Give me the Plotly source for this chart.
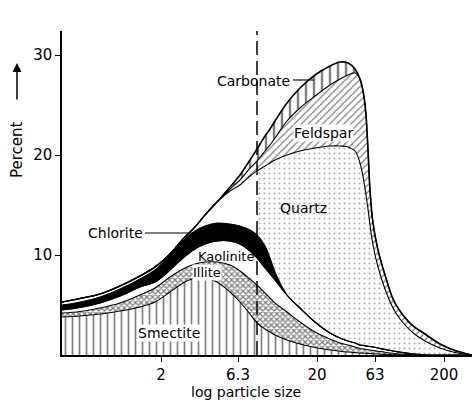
import plotly.graph_objects as go

# ---------------- data ----------------
# x positions on the drawn log particle-size axis (axis units)
X = [62, 80, 100, 120, 140, 155, 170, 183, 195, 205, 217, 230, 240, 250, 257, 265, 270, 275,
     287, 300, 315, 330, 340, 348, 355, 360, 364, 366, 368, 370, 373, 378, 385, 393, 400,
     412, 425, 440, 455, 472]

# cumulative tops of each component (percent)
SMECTITE = [3.8, 3.9, 4.1, 4.4, 4.8, 5.3, 6.3, 7.2, 7.7, 7.7, 7.3, 6.3, 5.3, 4.1, 3.2, 2.6, 2.3, 2.0,
            1.5, 1.1, 0.75, 0.5, 0.38, 0.3, 0.24, 0.2, 0.18, 0.17, 0.16, 0.15, 0.13, 0.1, 0.06, 0.03, 0.01,
            0, 0, 0, 0, 0]
ILLITE = [4.2, 4.35, 4.7, 5.2, 6.0, 6.7, 7.8, 8.6, 9.1, 9.3, 9.3, 9.0, 8.4, 7.6, 7.0, 6.2, 5.7, 5.2,
          4.3, 3.3, 2.3, 1.6, 1.2, 1.0, 0.8, 0.65, 0.6, 0.55, 0.52, 0.5, 0.45, 0.38, 0.28, 0.18, 0.1,
          0.03, 0, 0, 0, 0]
KAOLINITE = [4.5, 4.75, 5.2, 5.9, 6.8, 7.3, 8.5, 9.7, 10.6, 11.1, 11.4, 11.4, 11.1, 10.4, 9.7, 8.7, 8.1, 7.5,
             6.0, 4.7, 3.3, 2.2, 1.7, 1.4, 1.2, 1.0, 0.95, 0.9, 0.88, 0.85, 0.8, 0.7, 0.55, 0.4, 0.3,
             0.12, 0.03, 0, 0, 0]
CHLORITE = [5.0, 5.3, 5.8, 6.6, 7.6, 8.5, 10.0, 11.4, 12.4, 12.9, 13.2, 13.1, 12.9, 12.5, 12.0, 10.9, 9.7, 8.3,
            6.0, 4.7, 3.3, 2.2, 1.7, 1.4, 1.2, 1.0, 0.95, 0.9, 0.88, 0.85, 0.8, 0.7, 0.55, 0.4, 0.3,
            0.12, 0.03, 0, 0, 0]
QUARTZ = [5.3, 5.65, 6.1, 6.9, 7.9, 8.8, 10.1, 11.6, 12.8, 14.0, 15.3, 16.4, 17.0, 17.9, 18.4, 18.9, 19.2, 19.5,
          20.0, 20.4, 20.7, 20.9, 20.9, 20.8, 20.4, 19.2, 17.3, 16.0, 14.6, 13.0, 11.0, 8.8, 6.6, 4.7, 3.6,
          2.3, 1.4, 0.7, 0.25, 0]
FELDSPAR = [5.3, 5.65, 6.1, 6.9, 7.9, 8.8, 10.1, 11.6, 12.8, 14.0, 15.3, 16.6, 17.5, 18.7, 19.4, 20.4, 21.0, 21.7,
            23.4, 24.7, 25.9, 27.0, 27.6, 28.0, 28.2, 27.6, 25.8, 24.0, 20.5, 16.5, 13.2, 10.5, 8.0, 5.6, 4.4,
            3.0, 2.1, 1.1, 0.45, 0]
CARBONATE = [5.3, 5.65, 6.1, 6.9, 7.9, 8.8, 10.1, 11.6, 12.8, 14.0, 15.3, 16.8, 18.0, 19.5, 20.6, 21.9, 22.6, 23.4,
             25.2, 26.7, 28.0, 28.9, 29.3, 29.2, 28.6, 27.6, 25.8, 24.0, 20.5, 16.5, 13.2, 10.5, 8.0, 5.6, 4.4,
             3.0, 2.1, 1.1, 0.45, 0]

TICK_POS = [161, 238, 317, 375, 444]
TICK_TEXT = ["2", "6.3", "20", "63", "200"]
TEN_UM = 257

FONT = "DejaVu Sans"
K = "black"

# ---------------- figure ----------------
fig = go.Figure()
line = dict(color=K, width=1.1, shape="spline")
nol = dict(color="rgba(0,0,0,0)", width=0, shape="spline")


def add(y, x=X, fill="tonexty", fillcolor="white", pattern=None, ln=None):
    kw = {}
    if pattern:
        kw["fillpattern"] = pattern
    fig.add_trace(go.Scatter(x=x, y=y, mode="lines", line=ln or line, fill=fill,
                             fillcolor=fillcolor, hoverinfo="skip", showlegend=False, **kw))


add(SMECTITE, fill="tozeroy",
    pattern=dict(shape="|", size=7, solidity=0.24, fgcolor=K, bgcolor="white", fillmode="overlay"))
add(ILLITE, pattern=dict(shape="x", size=4, solidity=0.55, fgcolor=K, bgcolor="white", fillmode="overlay"))
add(KAOLINITE, fillcolor="white")

i10 = X.index(TEN_UM)
# quartz left of 10 µm: plain
add(CHLORITE[:i10 + 1], x=X[:i10 + 1], fill=None, ln=nol)
add(QUARTZ[:i10 + 1], x=X[:i10 + 1], fillcolor="white", ln=nol)
# quartz right of 10 µm: stippled
add(KAOLINITE[i10:], x=X[i10:], fill=None, ln=nol)
add(QUARTZ[i10:], x=X[i10:], ln=nol,
    pattern=dict(shape=".", size=5, solidity=0.13, fgcolor="#555", bgcolor="white", fillmode="overlay"))
# chlorite (black) painted over the quartz fills
add(KAOLINITE, fill=None)
add(CHLORITE, fillcolor=K)
# quartz top line
add(QUARTZ, fill=None)
add(FELDSPAR, pattern=dict(shape="/", size=5, solidity=0.25, fgcolor=K, bgcolor="white", fillmode="overlay"))
add(CARBONATE, pattern=dict(shape="|", size=8, solidity=0.3, fgcolor=K, bgcolor="white", fillmode="overlay"),
    ln=dict(color=K, width=1.6, shape="spline"))

# 10 µm line
fig.add_shape(type="line", x0=TEN_UM, x1=TEN_UM, y0=0, y1=32.5, xref="x", yref="y",
              line=dict(color=K, width=1.5, dash="14px,6px"))
# leader lines
fig.add_shape(type="line", x0=145, x1=197, y0=12.2, y1=12.2, line=dict(color=K, width=1.1))
fig.add_shape(type="line", x0=293, x1=314, y0=27.5, y1=27.5, line=dict(color=K, width=1.1))


def label(text, x, y, size=14, bg=None):
    fig.add_annotation(x=x, y=y, text=text, showarrow=False, xref="x", yref="y",
                       font=dict(family=FONT, size=size, color=K),
                       bgcolor=bg if bg else "rgba(0,0,0,0)", borderpad=0)


label("10 µm", 264, 34.0, 14)
label("Carbonate", 253, 27.4, 14)
label("Feldspar", 323, 22.2, 14, "white")
label("Quartz", 303, 14.7, 14)
label("Chlorite", 115, 12.2, 14)
label("Kaolinite", 226, 9.9, 13)
label("Illite", 207, 8.3, 13, "white")
label("Smectite", 169, 2.2, 14, "white")

# axis titles
fig.add_annotation(text="log particle size", xref="paper", yref="paper", x=(246 - 62) / 410,
                   y=(355 - 392) / 324, showarrow=False, font=dict(family=FONT, size=14, color=K),
                   xanchor="center", yanchor="middle")
fig.add_annotation(text="Percent", xref="paper", yref="paper", x=(17 - 62) / 410,
                   y=(355 - 150) / 324, showarrow=False, textangle=-90,
                   font=dict(family=FONT, size=15, color=K), xanchor="center", yanchor="middle")
fig.add_annotation(text="", xref="paper", yref="paper", x=(17 - 62) / 410, y=(355 - 63) / 324,
                   ax=0, ay=38, showarrow=True, arrowhead=2, arrowsize=1.2, arrowwidth=1.5,
                   arrowcolor=K)

fig.update_layout(
    width=475, height=404,
    margin=dict(l=62, r=3, t=31, b=49),
    paper_bgcolor="white", plot_bgcolor="white",
    font=dict(family=FONT, size=15, color=K),
    xaxis=dict(range=[62, 472], showgrid=False, zeroline=False, showline=True, linecolor=K,
               linewidth=1.5, ticks="outside", ticklen=5, tickwidth=1.2, tickcolor=K,
               tickvals=TICK_POS, ticktext=TICK_TEXT, tickfont=dict(size=15)),
    yaxis=dict(range=[0, 32.4], showgrid=False, zeroline=False, showline=True, linecolor=K,
               linewidth=1.5, ticks="outside", ticklen=5, tickwidth=1.2, tickcolor=K,
               tickvals=[10, 20, 30], tickfont=dict(size=15)),
)

fig.write_html("out.html")
